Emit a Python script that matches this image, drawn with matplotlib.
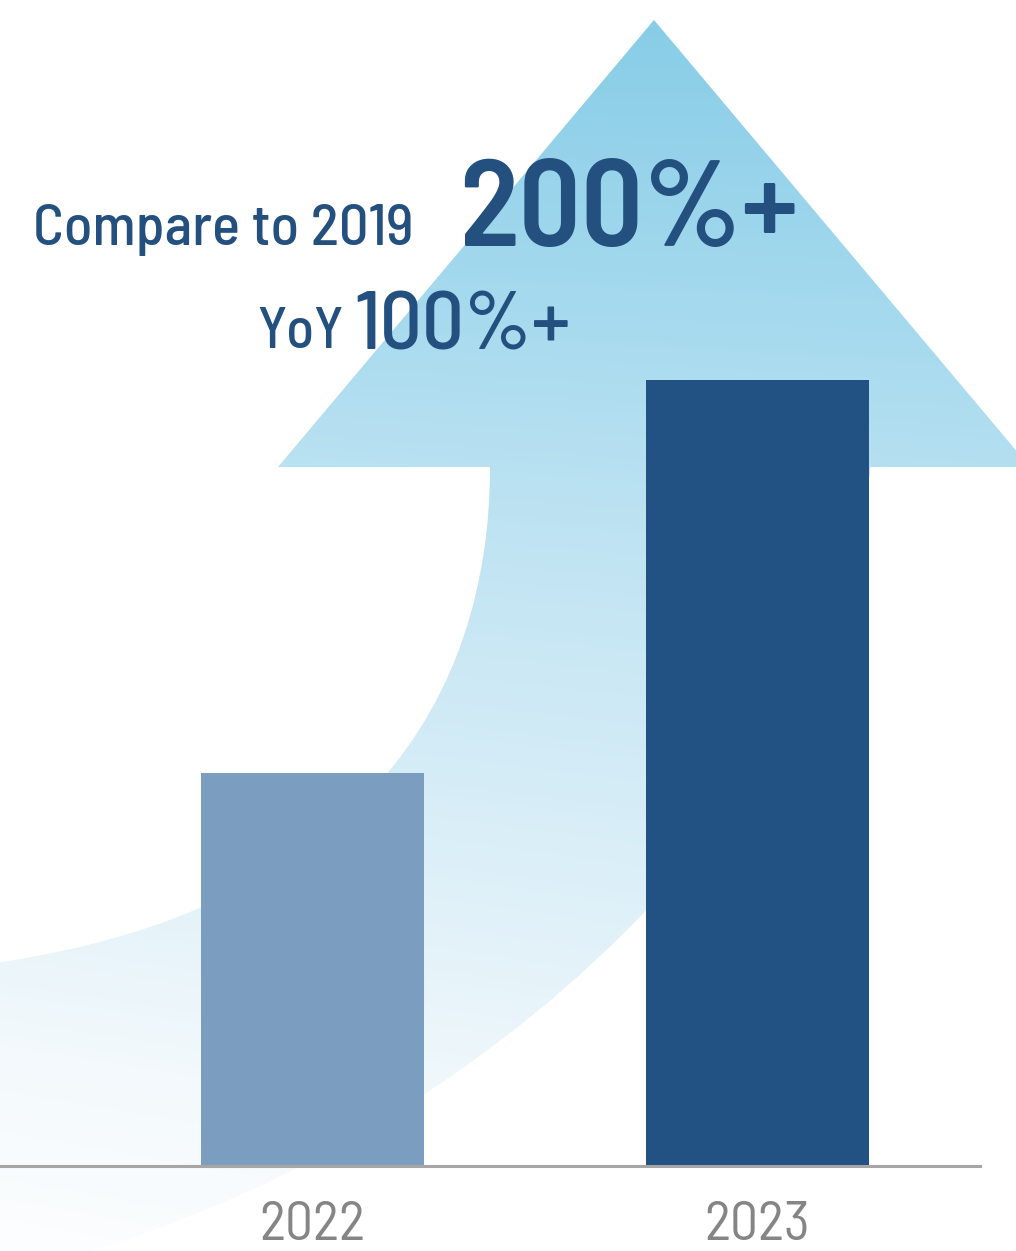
import numpy as np
import matplotlib
matplotlib.use("Agg")
import matplotlib.pyplot as plt
from matplotlib.path import Path
from matplotlib.patches import PathPatch
from matplotlib.colors import LinearSegmentedColormap

# revenue index, 2022 = 1
years = ["2022", "2023"]
revenue = [1.0, 2.0]
bar_colors = ["#7b9ec0", "#225183"]

headline_label = "Compare to 2019"
headline_value = "200%+"
yoy_label = "YoY"
yoy_value = "100%+"

W, H = 1016, 1251
text_blue = "#23507f"
font = ["Barlow Semi Condensed", "Barlow Condensed", "DejaVu Sans"]

fig = plt.figure(figsize=(W / 100, H / 100), dpi=100)

# background: curved growth arrow with a vertical fade
bg = fig.add_axes([0, 0, 1, 1])
bg.set_xlim(0, W)
bg.set_ylim(H, 0)
bg.axis("off")

verts = [
    (-5, 1275),
    (450, 1180), (850, 800), (870, 467),   # outer edge of the shaft
    (1030, 467),
    (654, 20),
    (278, 467),
    (490, 467),
    (490, 700), (360, 910), (-5, 963),     # inner edge of the shaft
    (-5, 1275),
]
codes = [Path.MOVETO,
         Path.CURVE4, Path.CURVE4, Path.CURVE4,
         Path.LINETO, Path.LINETO, Path.LINETO, Path.LINETO,
         Path.CURVE4, Path.CURVE4, Path.CURVE4,
         Path.CLOSEPOLY]
arrow = PathPatch(Path(verts, codes), facecolor="none", edgecolor="none")
bg.add_patch(arrow)

fade = LinearSegmentedColormap.from_list(
    "fade", ["#86cce6", "#a4d9ee", "#c3e5f3", "#dbeff8", "#f3f9fc", "#ffffff"])
yy, xx = np.mgrid[0:1:300j, 0:1:300j]
grad = 0.85 * yy + 0.15 * (1 - xx) * yy
img = bg.imshow(grad, cmap=fade, extent=[0, W, H, 0], vmin=0, vmax=1.05,
                aspect="auto", interpolation="bilinear")
img.set_clip_path(arrow)

bg.text(33, 245, headline_label, fontsize=42, color=text_blue,
        family=font, weight="medium", ha="left", va="baseline")
bg.text(459, 246, headline_value, fontsize=88, color=text_blue,
        family=font, weight="semibold", ha="left", va="baseline")
bg.text(257, 348, yoy_label, fontsize=41, color=text_blue,
        family=font, weight="medium", ha="left", va="baseline")
bg.text(354, 350, yoy_value, fontsize=60, color=text_blue,
        family=font, weight="medium", ha="left", va="baseline")

# bar chart on top
base_px = 1166
unit_px = 393
ax = fig.add_axes([0, (H - base_px) / H, 980 / W, base_px / H])
ax.patch.set_alpha(0)
x = np.arange(len(years))
ax.bar(x, revenue, width=0.5, color=bar_colors, zorder=2)
ax.set_xlim(-312.5 / 445, (980 - 312.5) / 445)
ax.set_ylim(0, base_px / unit_px)

for side in ["top", "right", "left"]:
    ax.spines[side].set_visible(False)
ax.spines["bottom"].set_color("#a6a6a6")
ax.spines["bottom"].set_linewidth(2.2)
ax.set_yticks([])
ax.set_xticks(x)
ax.set_xticklabels(years, fontsize=40, color="#858585", family=font,
                   weight="normal")
ax.tick_params(axis="x", length=0, pad=25)

fig.savefig("out.png", dpi=100)
